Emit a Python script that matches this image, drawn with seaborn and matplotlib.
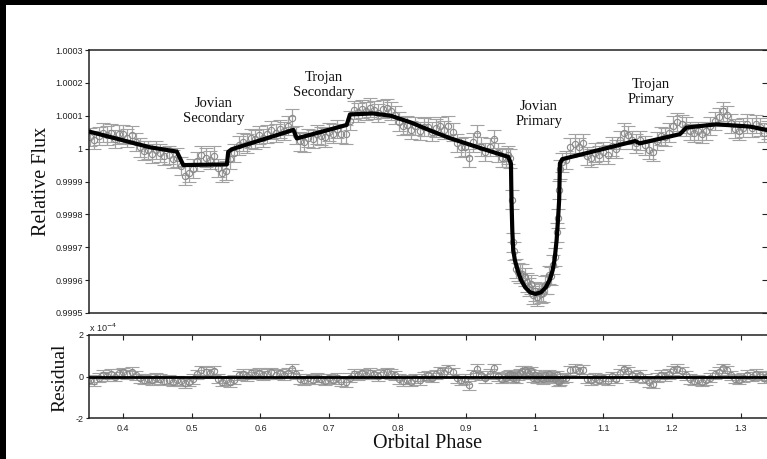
import numpy as np
import pandas as pd
import matplotlib
matplotlib.use("Agg")
import matplotlib.pyplot as plt
import seaborn as sns
from matplotlib.patches import Rectangle

# ---------------- data ----------------
phase = [
    0.352, 0.358, 0.364, 0.370, 0.376, 0.382, 0.388, 0.394, 0.400, 0.406,
    0.412, 0.418, 0.424, 0.430, 0.436, 0.442, 0.448, 0.454, 0.460, 0.466,
    0.472, 0.478, 0.484, 0.490, 0.496, 0.502, 0.508, 0.514, 0.520, 0.526,
    0.532, 0.538, 0.544, 0.550, 0.556, 0.562, 0.568, 0.574, 0.580, 0.586,
    0.592, 0.598, 0.604, 0.610, 0.616, 0.622, 0.628, 0.634, 0.640, 0.646,
    0.652, 0.658, 0.664, 0.670, 0.676, 0.682, 0.688, 0.694, 0.700, 0.706,
    0.712, 0.718, 0.724, 0.730, 0.736, 0.742, 0.748, 0.754, 0.760, 0.766,
    0.772, 0.778, 0.784, 0.790, 0.796, 0.802, 0.808, 0.814, 0.820, 0.826,
    0.832, 0.838, 0.844, 0.850, 0.856, 0.862, 0.868, 0.874, 0.880, 0.886,
    0.892, 0.898, 0.904, 0.910, 0.916, 0.922, 0.928, 0.934, 0.940, 0.946,
    0.952, 0.958,
    0.961, 0.964, 0.9665, 0.968, 0.970, 0.973, 0.976, 0.979, 0.982, 0.985,
    0.988, 0.991, 0.994, 0.997, 1.000, 1.003, 1.006, 1.009, 1.012, 1.015,
    1.018, 1.021, 1.024, 1.027, 1.030, 1.0325, 1.034, 1.0355, 1.037, 1.040,
    1.046, 1.052, 1.058, 1.064, 1.070, 1.076, 1.082, 1.088, 1.094, 1.100,
    1.106, 1.112, 1.118, 1.124, 1.130, 1.136, 1.142, 1.148, 1.154, 1.160,
    1.166, 1.172, 1.178, 1.184, 1.190, 1.196, 1.202, 1.208, 1.214, 1.220,
    1.226, 1.232, 1.238, 1.244, 1.250, 1.256, 1.262, 1.268, 1.274, 1.280,
    1.286, 1.292, 1.298, 1.304, 1.310, 1.316, 1.322, 1.328, 1.334, 1.340,
    1.346,
]

# relative flux, as (flux - 1) in parts per million
flux_ppm = [
    36, 26, 39, 49, 40, 47, 29, 43, 45, 32,
    41, 20, 4, -6, -4, -15, -4, -13, -22, -19,
    -32, -27, -52, -82, -74, -61, -39, -19, -27, -34,
    -21, -59, -74, -67, -33, -14, 10, 21, 15, 31,
    28, 42, 33, 44, 56, 48, 59, 53, 70, 94,
    42, 22, 19, 33, 29, 43, 39, 34, 50, 46,
    59, 46, 43, 85, 117, 110, 121, 115, 125, 117,
    108, 120, 123, 114, 103, 82, 68, 71, 57, 69,
    54, 65, 67, 52, 62, 69, 57, 70, 50, 18,
    4, 6, -28, 19, 43, 6, -11, 5, 30, -12,
    -28, -27,
    -20, -30, -155, -285, -312, -365, -375, -380, -380, -390,
    -407, -421, -413, -446, -434, -451, -436, -441, -439, -415,
    -413, -385, -388, -353, -330, -255, -212, -125, -63, -42,
    -34, 4, 15, 5, 16, -23, -28, -12, -19, -9,
    -18, 7, -2, 26, 49, 42, 26, 16, 25, 10,
    -5, -9, 24, 39, 36, 49, 70, 81, 75, 67,
    53, 47, 54, 46, 54, 68, 84, 96, 113, 103,
    77, 61, 55, 64, 76, 64, 75, 65, 49, 57,
    48,
]

# residuals in units of 1e-4
residual_e4 = [
    -0.15, -0.22, -0.05, 0.08, 0.02, 0.12, -0.02, 0.15, 0.20, 0.10,
    0.22, 0.05, -0.08, -0.15, -0.10, -0.18, -0.05, -0.12, -0.20, -0.15,
    -0.25, -0.18, -0.22, -0.32, -0.25, -0.12, 0.10, 0.30, 0.22, 0.15,
    0.28, -0.10, -0.25, -0.18, -0.28, -0.15, 0.05, 0.12, 0.02, 0.15,
    0.08, 0.18, 0.05, 0.12, 0.20, 0.08, 0.15, 0.05, 0.18, 0.38,
    0.10, -0.12, -0.18, -0.08, -0.15, -0.05, -0.12, -0.20, -0.08, -0.15,
    -0.05, -0.22, -0.28, -0.05, 0.12, 0.05, 0.15, 0.08, 0.18, 0.10,
    0.02, 0.15, 0.20, 0.12, 0.05, -0.12, -0.22, -0.15, -0.25, -0.08,
    -0.18, -0.02, 0.05, -0.05, 0.10, 0.25, 0.18, 0.35, 0.20, -0.08,
    -0.18, -0.12, -0.42, 0.10, 0.38, 0.05, -0.08, 0.12, 0.40, 0.02,
    -0.10, -0.05,
    0.05, 0.10, 0.05, -0.05, 0.08, -0.10, 0.05, 0.15, 0.28, 0.30,
    0.20, 0.12, 0.25, -0.05, 0.08, -0.10, 0.02, -0.08, -0.12, 0.05,
    -0.05, 0.10, -0.08, 0.02, -0.10, 0.05, -0.22, -0.25, -0.18, -0.10,
    -0.05, 0.30, 0.38, 0.25, 0.32, -0.10, -0.18, -0.05, -0.15, -0.08,
    -0.20, 0.02, -0.10, 0.15, 0.35, 0.25, 0.05, -0.05, 0.08, -0.10,
    -0.28, -0.35, -0.05, 0.08, 0.02, 0.12, 0.30, 0.38, 0.25, 0.05,
    -0.12, -0.20, -0.15, -0.25, -0.18, -0.05, 0.10, 0.22, 0.40, 0.30,
    0.05, -0.10, -0.15, -0.05, 0.08, -0.02, 0.12, 0.05, -0.08, 0.02,
    -0.05,
]

flux_err_ppm = 28
residual_err_e4 = 0.22

# best-fit model curve
model_phase = [
    0.350, 0.439, 0.478, 0.4875, 0.551, 0.553, 0.558, 0.648, 0.653, 0.7257,
    0.7305, 0.764, 0.790, 0.820, 0.850, 0.876, 0.920, 0.9612, 0.9652, 0.9660,
    0.9672, 0.9685, 0.971, 0.975, 0.980, 0.986, 0.993, 1.001, 1.009, 1.016,
    1.022, 1.026, 1.029, 1.0318, 1.0340, 1.0355, 1.0366, 1.040, 1.146, 1.153,
    1.2115, 1.221, 1.265, 1.3136, 1.350,
]
model_ppm = [
    52, 4, -9, -50, -48, -10, -2, 57, 31, 72,
    104, 107, 100, 79, 53, 32, 2, -25, -45, -156,
    -250, -308, -340, -370, -400, -422, -437, -442, -437, -422,
    -398, -370, -335, -278, -210, -156, -45, -32, 23, 16,
    44, 64, 74, 67, 52,
]

flux_ticks = [0.9995, 0.9996, 0.9997, 0.9998, 0.9999, 1.0, 1.0001, 1.0002, 1.0003]
flux_ticklabels = ["0.9995", "0.9996", "0.9997", "0.9998", "0.9999", "1",
                   "1.0001", "1.0002", "1.0003"]
phase_ticks = [0.4, 0.5, 0.6, 0.7, 0.8, 0.9, 1.0, 1.1, 1.2, 1.3]
phase_ticklabels = ["0.4", "0.5", "0.6", "0.7", "0.8", "0.9", "1", "1.1", "1.2", "1.3"]
resid_ticks = [-2, 0, 2]
resid_ticklabels = ["-2", "0", "2"]

annot_text = ["Jovian\nSecondary", "Trojan\nSecondary", "Jovian\nPrimary", "Trojan\nPrimary"]
annot_phase = [0.532, 0.6926, 1.006, 1.1692]
annot_flux = [1.000114, 1.000194, 1.000105, 1.000172]

# ---------------- build tables ----------------
df = pd.DataFrame({
    "phase": phase,
    "flux": [1.0 + v * 1e-6 for v in flux_ppm],
    "resid": residual_e4,
})
model = pd.DataFrame({
    "phase": model_phase,
    "flux": [1.0 + v * 1e-6 for v in model_ppm],
})

# ---------------- style ----------------
sns.set_theme(style="white")
plt.rcParams["font.family"] = ["Liberation Sans", "DejaVu Sans"]
plt.rcParams["axes.linewidth"] = 1.1
plt.rcParams["axes.edgecolor"] = "#222222"
serif = ["Liberation Serif", "DejaVu Serif"]

W, H = 767, 459
fig = plt.figure(figsize=(W / 100, H / 100), dpi=100)
fig.patch.set_facecolor("white")

left = 89 / W
width = (768 - 89) / W
ax = fig.add_axes([left, (H - 313) / H, width, (313 - 50) / H])
axr = fig.add_axes([left, (H - 418) / H, width, (418 - 335) / H])

mark_col = "#8a8a8a"
err_col = "#a2a2a2"

# ---------------- top panel ----------------
ax.errorbar(df["phase"], df["flux"], yerr=flux_err_ppm * 1e-6, fmt="o", ms=4.5,
            mfc="none", mec=mark_col, mew=0.8, ecolor=err_col, elinewidth=0.9,
            capsize=5, capthick=0.9, zorder=2)
sns.lineplot(data=model, x="phase", y="flux", color="black", linewidth=3.0,
             sort=False, ax=ax, zorder=3)

ax.set_xlim(0.35, 1.34)
ax.set_ylim(0.9995, 1.0003)
ax.set_yticks(flux_ticks)
ax.set_yticklabels(flux_ticklabels, fontsize=6.5)
ax.tick_params(axis="x", bottom=False, labelbottom=False)
ax.tick_params(axis="y", direction="out", length=3, width=0.8, pad=1.5,
               left=True, colors="#222222", labelcolor="#222222")
sec = ax.secondary_yaxis("right")
sec.set_yticks(flux_ticks)
sec.tick_params(direction="in", length=4.3, width=0.8, labelright=False, colors="#222222")
for s in ax.spines.values():
    s.set_visible(True)
ax.set_xlabel("")
ax.set_ylabel("Relative Flux", family=serif, fontsize=14.5, color="#111111")
ax.yaxis.label.set_va("center")
ax.yaxis.set_label_coords((41.5 - 89) / (768 - 89), 0.5)

for t, px, fy in zip(annot_text, annot_phase, annot_flux):
    ax.text(px, fy, t, family=serif, fontsize=10.5, ha="center", va="center",
            linespacing=1.15, color="#111111", zorder=4)

# ---------------- residual panel ----------------
axr.errorbar(df["phase"], df["resid"], yerr=residual_err_e4, fmt="o", ms=4.5,
             mfc="none", mec=mark_col, mew=0.8, ecolor=err_col, elinewidth=0.9,
             capsize=5, capthick=0.9, zorder=2)
axr.axhline(0, color="black", linewidth=2.0, zorder=3)
axr.set_xlim(0.35, 1.34)
axr.set_ylim(-2, 2)
axr.set_xticks(phase_ticks)
axr.set_xticklabels(phase_ticklabels, fontsize=6.5)
axr.set_yticks(resid_ticks)
axr.set_yticklabels(resid_ticklabels, fontsize=6.5)
axr.tick_params(axis="x", direction="in", top=True, bottom=True, length=3.6,
                width=0.8, pad=4.5, colors="#222222", labelcolor="#222222")
axr.tick_params(axis="y", direction="out", length=2.5, width=0.8, pad=1.5,
                left=True, colors="#222222", labelcolor="#222222")
for s in axr.spines.values():
    s.set_visible(True)
axr.text(0.0, 1.01, r"x 10$^{-4}$", transform=axr.transAxes, fontsize=6.5,
         ha="left", va="bottom", color="#222222")

axr.set_ylabel("Residual", family=serif, fontsize=14, color="#111111")
axr.yaxis.label.set_va("center")
axr.yaxis.set_label_coords((60 - 89) / (768 - 89), (418 - 378) / (418 - 335))
axr.set_xlabel("Orbital Phase", family=serif, fontsize=14.5, color="#111111")
axr.xaxis.label.set_va("center")
axr.xaxis.set_label_coords((427.5 - 89) / (768 - 89), (418 - 444) / (418 - 335))

# black frame strips at top and left edges of the reference image
fig.add_artist(Rectangle((0, 1 - 5 / H), 1, 5 / H, transform=fig.transFigure,
                         facecolor="black", edgecolor="none", zorder=10))
fig.add_artist(Rectangle((0, 0), 6 / W, 1, transform=fig.transFigure,
                         facecolor="black", edgecolor="none", zorder=10))

fig.savefig("out.png", dpi=100)
